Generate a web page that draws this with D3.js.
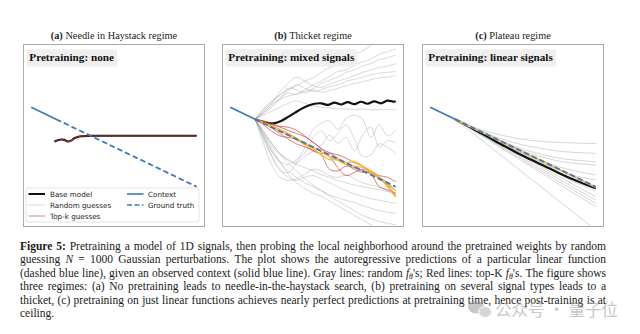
<!DOCTYPE html>
<html><head><meta charset="utf-8">
<script src="https://cdn.jsdelivr.net/npm/d3@7"></script>
<style>body{margin:0;background:#fff}svg{display:block}</style></head>
<body><svg id="chart" width="640" height="334"></svg>
<script>
// ---------------- DATA ----------------
const panelTitles = [["(a)", " Needle in Haystack regime"], ["(b)", " Thicket regime"], ["(c)", " Plateau regime"]];
const panelLabels = ["Pretraining: none", "Pretraining: mixed signals", "Pretraining: linear signals"];
const legendLabels = ["Base model", "Random guesses", "Top-k guesses", "Context", "Ground truth"];

const contextT = [0, 15];
const contextV = [0, -0.15];
const truthT = [15, 100];
const truthV = [-0.15, -1.0];

// panel (a)
const aBaseT = [14, 16, 18, 20, 22, 24, 26, 28, 30, 34, 40, 100];
const aBaseV = [-0.43, -0.415, -0.405, -0.41, -0.43, -0.42, -0.39, -0.375, -0.365, -0.36, -0.358, -0.358];

// panel (b)
const bBaseT = [15, 19, 23, 27, 31, 35, 39, 43, 47, 51, 55, 59, 63, 67, 71, 75, 79, 83, 87, 91, 95, 99, 100];
const bBaseV = [-0.15, -0.18, -0.20, -0.20, -0.17, -0.12, -0.07, -0.02, 0.02, 0.045, 0.05, 0.03, 0.06, 0.035, 0.065, 0.04, 0.07, 0.045, 0.075, 0.05, 0.085, 0.07, 0.075];
const bT = [15, 20, 25, 30, 35, 40, 45, 50, 55, 60, 65, 70, 75, 80, 85, 90, 95, 100];
const bGray = [
  [-0.15, -0.02, 0.08, 0.16, 0.22, 0.27, 0.33, 0.37, 0.44, 0.50, 0.54, 0.60, 0.66, 0.71, 0.78, 0.85, 0.92, 0.98],
  [-0.15, -0.05, 0.04, 0.10, 0.14, 0.17, 0.22, 0.28, 0.33, 0.39, 0.45, 0.47, 0.53, 0.57, 0.61, 0.67, 0.70, 0.74],
  [-0.15, -0.03, 0.07, 0.15, 0.24, 0.22, 0.18, 0.23, 0.30, 0.34, 0.38, 0.44, 0.47, 0.52, 0.55, 0.60, 0.62, 0.66],
  [-0.15, -0.06, 0.05, 0.20, 0.30, 0.38, 0.33, 0.27, 0.25, 0.29, 0.33, 0.36, 0.40, 0.44, 0.47, 0.50, 0.52, 0.55],
  [-0.15, -0.08, 0.00, 0.10, 0.22, 0.28, 0.24, 0.20, 0.22, 0.26, 0.28, 0.33, 0.35, 0.38, 0.41, 0.43, 0.44, 0.45],
  [-0.15, -0.07, 0.02, 0.12, 0.18, 0.16, 0.20, 0.22, 0.19, 0.21, 0.24, 0.27, 0.30, 0.32, 0.35, 0.37, 0.38, 0.40],
  [-0.15, -0.10, -0.05, 0.00, 0.05, 0.08, 0.05, 0.02, 0.00, -0.01, -0.02, -0.02, -0.03, -0.02, -0.03, -0.03, -0.03, -0.03],
  [-0.15, -0.40, -0.62, -0.80, -0.82, -0.70, -0.50, -0.28, -0.20, -0.17, -0.28, -0.14, -0.10, -0.15, -0.38, -0.22, -0.36, -0.29],
  [-0.15, -0.35, -0.55, -0.68, -0.72, -0.66, -0.58, -0.38, -0.30, -0.42, -0.33, -0.22, -0.40, -0.62, -0.60, -0.46, -0.50, -0.58],
  [-0.15, -0.30, -0.45, -0.58, -0.66, -0.70, -0.62, -0.55, -0.48, -0.35, -0.45, -0.38, -0.55, -0.35, -0.25, -0.50, -0.42, -0.45],
  [-0.15, -0.32, -0.48, -0.60, -0.66, -0.72, -0.76, -0.80, -0.85, -0.88, -0.92, -0.95, -0.98, -1.00, -1.02, -1.04, -1.06, -1.08],
  [-0.15, -0.38, -0.60, -0.78, -0.88, -0.92, -0.88, -0.86, -0.90, -0.95, -1.00, -1.05, -1.09, -1.12, -1.15, -1.17, -1.19, -1.21],
  [-0.15, -0.36, -0.55, -0.70, -0.80, -0.88, -0.95, -1.00, -1.05, -1.10, -1.14, -1.17, -1.20, -1.24, -1.27, -1.30, -1.32, -1.335],
  [-0.15, -0.30, -0.45, -0.58, -0.70, -0.80, -0.90, -0.98, -1.05, -1.12, -1.18, -1.24, -1.30, -1.36, -1.40, -1.44, -1.46, -1.48],
  [-0.15, -0.33, -0.52, -0.68, -0.84, -0.95, -1.02, -1.08, -1.12, -1.18, -1.24, -1.30, -1.36, -1.42, -1.48, -1.55, -1.60, -1.65],
  [-0.15, -0.45, -0.72, -0.88, -0.92, -0.90, -0.84, -0.78, -0.80, -0.86, -0.88, -0.85, -0.90, -0.95, -0.98, -1.00, -1.05, -1.10]
];
const bRed = [
  [-0.15, -0.17, -0.20, -0.25, -0.29, -0.33, -0.37, -0.44, -0.52, -0.62, -0.76, -0.86, -0.82, -0.78, -0.82, -0.88, -0.95, -1.05],
  [-0.15, -0.18, -0.22, -0.24, -0.25, -0.29, -0.36, -0.44, -0.52, -0.57, -0.60, -0.64, -0.70, -0.74, -0.80, -0.86, -0.88, -0.94],
  [-0.15, -0.20, -0.26, -0.33, -0.40, -0.46, -0.50, -0.54, -0.60, -0.78, -0.80, -0.74, -0.76, -0.80, -0.84, -1.00, -1.04, -1.08],
  [-0.15, -0.22, -0.30, -0.36, -0.38, -0.40, -0.46, -0.55, -0.58, -0.58, -0.64, -0.72, -0.78, -0.82, -0.82, -0.90, -0.98, -1.12]
];
const bGold = [
  [-0.15, -0.19, -0.23, -0.28, -0.33, -0.39, -0.45, -0.50, -0.56, -0.62, -0.67, -0.72, -0.74, -0.76, -0.80, -0.88, -1.00, -1.13],
  [-0.15, -0.20, -0.25, -0.30, -0.35, -0.41, -0.47, -0.52, -0.60, -0.66, -0.66, -0.70, -0.68, -0.74, -0.82, -0.90, -0.97, -1.05]
];

// panel (c)
const cT = [15, 25, 35, 45, 55, 65, 75, 85, 100];
const cGray = [
  [-0.15, -0.24, -0.31, -0.36, -0.40, -0.425, -0.44, -0.448, -0.455],
  [-0.15, -0.25, -0.34, -0.41, -0.47, -0.51, -0.545, -0.565, -0.58],
  [-0.15, -0.25, -0.35, -0.44, -0.52, -0.58, -0.63, -0.66, -0.685],
  [-0.15, -0.25, -0.355, -0.45, -0.54, -0.61, -0.665, -0.70, -0.727],
  [-0.15, -0.255, -0.36, -0.46, -0.56, -0.65, -0.73, -0.79, -0.85],
  [-0.15, -0.255, -0.36, -0.47, -0.575, -0.675, -0.77, -0.85, -0.915],
  [-0.15, -0.26, -0.37, -0.48, -0.585, -0.69, -0.795, -0.89, -1.03],
  [-0.15, -0.26, -0.37, -0.48, -0.59, -0.70, -0.81, -0.92, -1.06],
  [-0.15, -0.265, -0.38, -0.495, -0.61, -0.725, -0.84, -0.955, -1.126],
  [-0.15, -0.27, -0.39, -0.51, -0.63, -0.75, -0.87, -0.99, -1.17],
  [-0.15, -0.275, -0.40, -0.525, -0.65, -0.775, -0.90, -1.025, -1.21],
  [-0.15, -0.28, -0.41, -0.54, -0.67, -0.80, -0.93, -1.06, -1.25],
  [-0.15, -0.314, -0.478, -0.642, -0.806, -0.97, -1.134, -1.298, -1.544]
];
const cBase = [-0.15, -0.26, -0.375, -0.49, -0.60, -0.70, -0.80, -0.895, -1.02];
const cGold = [-0.15, -0.25, -0.35, -0.455, -0.555, -0.655, -0.755, -0.855, -1.005];

const captionLines = [
  "**Figure **5: Pretraining a model of 1D signals, then probing the local neighborhood around the pretrained weights by random",
  "guessing {N} = 1000 Gaussian perturbations. The plot shows the autoregressive predictions of a particular linear function",
  "(dashed blue line), given an observed context (solid blue line). Gray lines: random {f}[θ]'s; Red lines: top-K {f}[θ]'s. The figure shows",
  "three regimes: (a) No pretraining leads to needle-in-the-haystack search, (b) pretraining on several signal types leads to a",
  "thicket, (c) pretraining on just linear functions achieves nearly perfect predictions at pretraining time, hence post-training is at",
  "ceiling."
];
const watermark = "公众号 · 量子位";

// ---------------- DRAW ----------------
const svg = d3.select("#chart");
const BLUE = "#3d7ab8";
const panelLefts = [23, 222, 422];
const PW = 182, PT = 44, PH = 183;

const zip = (ts, vs) => ts.map((t, i) => [t, vs[i]]);

panelLefts.forEach((left, p) => {
  const x = d3.scaleLinear().domain([-5, 105]).range([left, left + PW]);
  const y = d3.scaleLinear().domain([-1.507, 0.797]).range([PT + PH, PT]);
  const line = d3.line().x(d => x(d[0])).y(d => y(d[1])).curve(d3.curveCatmullRom.alpha(0.5));
  const straight = d3.line().x(d => x(d[0])).y(d => y(d[1]));

  svg.append("clipPath").attr("id", "clip" + p).append("rect")
    .attr("x", left).attr("y", PT).attr("width", PW).attr("height", PH);
  const g = svg.append("g").attr("clip-path", `url(#clip${p})`);

  const tt = svg.append("text").attr("x", left + PW / 2).attr("y", 38.5)
    .attr("text-anchor", "middle").attr("font-family", "Liberation Serif").attr("font-size", 10.3).attr("fill", "#222");
  tt.append("tspan").attr("font-weight", "bold").text(panelTitles[p][0]);
  tt.append("tspan").text(panelTitles[p][1]);

  if (p === 0) {
    g.append("path").attr("d", line(zip(aBaseT, aBaseV))).attr("fill", "none").attr("stroke", "#111").attr("stroke-width", 2.1);
    g.append("path").attr("d", line(zip(aBaseT, aBaseV))).attr("fill", "none").attr("stroke", "#c0392b").attr("stroke-width", 1.1).attr("opacity", 0.7);
  } else if (p === 1) {
    bGray.forEach(v => g.append("path").attr("d", line(zip(bT, v))).attr("fill", "none")
      .attr("stroke", "#9a9a9a").attr("stroke-width", 0.75).attr("opacity", 0.5));
    g.append("path").attr("d", line(zip(bBaseT, bBaseV))).attr("fill", "none").attr("stroke", "#111").attr("stroke-width", 2.2);
    bRed.forEach(v => g.append("path").attr("d", line(zip(bT, v))).attr("fill", "none")
      .attr("stroke", "#d0454a").attr("stroke-width", 0.85).attr("opacity", 0.85));
    bGold.forEach(v => g.append("path").attr("d", line(zip(bT, v))).attr("fill", "none")
      .attr("stroke", "#f4bb22").attr("stroke-width", 1.3).attr("opacity", 0.95));
  } else {
    cGray.forEach(v => g.append("path").attr("d", line(zip(cT, v))).attr("fill", "none")
      .attr("stroke", "#9a9a9a").attr("stroke-width", 0.75).attr("opacity", 0.55));
    g.append("path").attr("d", line(zip(cT, cBase))).attr("fill", "none").attr("stroke", "#111").attr("stroke-width", 2.2);
    g.append("path").attr("d", line(zip(cT, cGold))).attr("fill", "none").attr("stroke", "#e9c46a").attr("stroke-width", 2.2);
  }
  g.append("path").attr("d", straight(zip(contextT, contextV))).attr("fill", "none").attr("stroke", BLUE).attr("stroke-width", 1.8);
  g.append("path").attr("d", straight(zip(truthT, truthV))).attr("fill", "none").attr("stroke", BLUE)
    .attr("stroke-width", 1.8).attr("stroke-dasharray", "5.5,3");

  svg.append("rect").attr("x", left + 0.5).attr("y", PT + 0.5).attr("width", PW - 1).attr("height", PH - 1)
    .attr("fill", "none").attr("stroke", "#a9a9a9").attr("stroke-width", 1);

  const lb = svg.append("g");
  const bg = lb.append("rect");
  const lt = lb.append("text").attr("x", left + 6.3).attr("y", 61).attr("font-family", "Liberation Serif")
    .attr("font-weight", "bold").attr("font-size", 11.2).attr("fill", "#111").text(panelLabels[p]);
  const w = lt.node().getComputedTextLength();
  bg.attr("x", left + 3.5).attr("y", 49.3).attr("width", w + 6).attr("height", 17.2).attr("rx", 2).attr("fill", "#efefef");

  if (p === 0) {
    const lg = svg.append("g");
    lg.append("rect").attr("x", 26).attr("y", 188).attr("width", 173).attr("height", 34).attr("rx", 2)
      .attr("fill", "#fff").attr("stroke", "#dcdcdc").attr("stroke-width", 0.8);
    const items = [
      {c: 0, r: 0, stroke: "#111", w: 2, dash: null},
      {c: 0, r: 1, stroke: "#dedede", w: 1.2, dash: null},
      {c: 0, r: 2, stroke: "#d99a9a", w: 1.2, dash: null},
      {c: 1, r: 0, stroke: BLUE, w: 1.6, dash: null},
      {c: 1, r: 1, stroke: BLUE, w: 1.6, dash: "5,2.5"}
    ];
    items.forEach((it, i) => {
      const hx = it.c === 0 ? 28.5 : 127, tx = it.c === 0 ? 50 : 148;
      const yy = 194 + it.r * 11;
      lg.append("line").attr("x1", hx).attr("x2", hx + 16.5).attr("y1", yy).attr("y2", yy)
        .attr("stroke", it.stroke).attr("stroke-width", it.w).attr("stroke-dasharray", it.dash);
      lg.append("text").attr("x", tx).attr("y", yy + 2.5).attr("font-family", "DejaVu Sans")
        .attr("font-size", 7.2).attr("fill", "#222").text(legendLabels[i]);
    });
  }
});

// ---------------- CAPTION ----------------
const capLeft = 20, capRight = 606, capBase = 250, capLead = 13.45;
let capSize = 11;
const capLines = captionLines.map((ln, li) => {
  const words = [];
  ln.split(" ").forEach(wd => {
    const g = svg.append("text").attr("y", capBase + li * capLead).attr("font-family", "Liberation Serif")
      .attr("font-size", capSize).attr("fill", "#1a1a1a");
    let s = wd, isBold = false;
    if (s.startsWith("**")) { s = s.replace(/\*\*/g, ""); isBold = true; }
    if (li === 0 && words.length === 1) isBold = true;
    if (isBold) g.attr("font-weight", "bold");
    const parts = s.split(/(\{[^}]*\}|\[[^\]]*\])/).filter(d => d.length);
    let shifted = false;
    parts.forEach(pt => {
      const ts = g.append("tspan");
      if (pt.startsWith("{")) { ts.attr("font-style", "italic").text(pt.slice(1, -1)); if (shifted) { ts.attr("dy", -2); shifted = false; } }
      else if (pt.startsWith("[")) { ts.attr("class", "sub").attr("font-style", "italic").attr("dy", 2).text(pt.slice(1, -1)); shifted = true; }
      else { ts.text(pt); if (shifted) { ts.attr("dy", -2); shifted = false; } }
    });
    words.push(g);
  });
  return words;
});
// fit font size so the widest justified line keeps a normal word gap
let fit = Infinity;
capLines.forEach((words, li) => {
  if (li === capLines.length - 1) return;
  const tot = d3.sum(words, w => w.node().getComputedTextLength());
  const s = capSize * (capRight - capLeft) / (tot + 0.26 * capSize * (words.length - 1));
  fit = Math.min(fit, s);
});
capSize = Math.min(fit, 12);
capLines.forEach((words, li) => {
  words.forEach(w => { w.attr("font-size", capSize); w.selectAll("tspan.sub").attr("font-size", capSize * 0.68); });
  const widths = words.map(w => w.node().getComputedTextLength());
  const total = d3.sum(widths);
  const last = li === capLines.length - 1;
  const gap = last ? capSize * 0.25 : (capRight - capLeft - total) / (words.length - 1);
  let cx = capLeft;
  words.forEach((w, i) => { w.attr("x", cx); cx += widths[i] + gap; });
});

// ---------------- WATERMARK ----------------
const wm = svg.append("g").attr("opacity", 0.55);
wm.append("ellipse").attr("cx", 476).attr("cy", 307).attr("rx", 8).attr("ry", 6.5).attr("fill", "#9a9a9a");
wm.append("ellipse").attr("cx", 485).attr("cy", 312).attr("rx", 6.5).attr("ry", 5.5).attr("fill", "#b5b5b5").attr("stroke", "#fff").attr("stroke-width", 1);
wm.append("text").attr("x", 495).attr("y", 316).attr("font-family", "Noto Sans CJK SC").attr("font-size", 16.5)
  .attr("fill", "#9a9a9a").text(watermark);
</script>
</body></html>
